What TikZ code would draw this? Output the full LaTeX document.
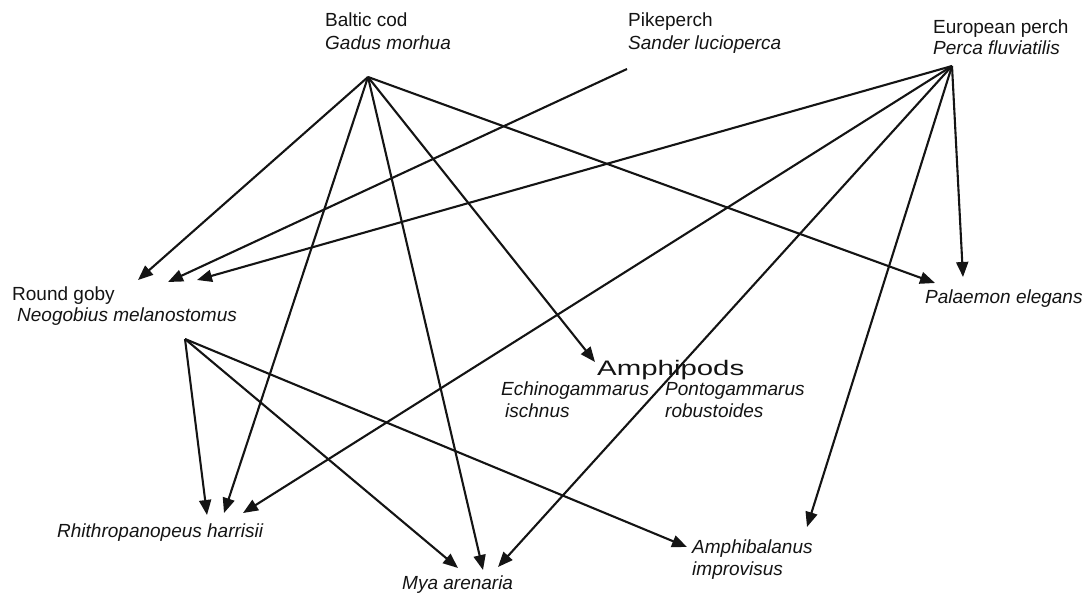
\documentclass[tikz,border=0pt]{standalone}
\usepackage{fontspec}
\setmainfont{Liberation Sans}
\usetikzlibrary{arrows.meta}
\definecolor{ink}{HTML}{141414}
\begin{document}
\begin{tikzpicture}[x=1pt,y=-1pt,
  lbl/.style={anchor=base west,inner sep=0pt,text=ink,font=\fontsize{19}{22}\selectfont},
  ilbl/.style={lbl,font=\fontsize{19}{22}\selectfont\itshape},
  feed/.style={draw=ink,line width=2.1pt,-{Triangle[length=15pt,width=12pt]}}]
\useasboundingbox (0,0) rectangle (1091,594);
% labels
\node[lbl] (codA) at (325,27) {Baltic cod};
\node[ilbl] (codB) at (325,49) {Gadus morhua};
\node[lbl] (pikeA) at (628,27) {Pikeperch};
\node[ilbl] (pikeB) at (628,49) {Sander lucioperca};
\node[lbl] (perchA) at (933,34) {European perch};
\node[ilbl] (perchB) at (933,55) {Perca fluviatilis};
\node[lbl] (gobyA) at (12,300) {Round goby};
\node[ilbl] (gobyB) at (17,321) {Neogobius melanostomus};
\node[ilbl] (palae) at (925,303) {Palaemon elegans};
\node[lbl,font=\fontsize{21}{24}\selectfont] (amph) at (597,375) {\scalebox{1.4}[1]{Amphipods}};
\node[ilbl] (echA) at (501,395) {Echinogammarus};
\node[ilbl] (echB) at (505,417) {ischnus};
\node[ilbl] (ponA) at (665,395) {Pontogammarus};
\node[ilbl] (ponB) at (665,417) {robustoides};
\node[ilbl] (rhith) at (57,537) {Rhithropanopeus harrisii};
\node[ilbl] (mya) at (402,589) {Mya arenaria};
\node[ilbl] (balA) at (692,553) {Amphibalanus};
\node[ilbl] (balB) at (692,575) {improvisus};
% connector ends
\coordinate (cod) at (368,77);
\coordinate (perch) at (952,66);
\coordinate (pike) at (627,69);
\coordinate (goby) at (185,339);
\coordinate (g1) at (138,280);
\coordinate (g2) at (168,282);
\coordinate (g3) at (197,280);
\coordinate (r1) at (207,515);
\coordinate (r2) at (224,513);
\coordinate (r3) at (243,513);
\coordinate (m1) at (458,568);
\coordinate (m2) at (483,570);
\coordinate (m3) at (498,567);
\coordinate (a1) at (595,362);
\coordinate (p1) at (935,283);
\coordinate (p2) at (963,277);
\coordinate (b1) at (687,547);
\coordinate (b2) at (807,527);
% cod
\draw[feed] (cod) -- (g1);
\draw[feed] (cod) -- (r2);
\draw[feed] (cod) -- (m2);
\draw[feed] (cod) -- (a1);
\draw[feed] (cod) -- (p1);
% pikeperch
\draw[feed] (pike) -- (g2);
% perch
\draw[feed] (perch) -- (g3);
\draw[feed] (perch) -- (r3);
\draw[feed] (perch) -- (m3);
\draw[feed] (perch) -- (b2);
\draw[feed] (perch) -- (p2);
% goby
\draw[feed] (goby) -- (r1);
\draw[feed] (goby) -- (m1);
\draw[feed] (goby) -- (b1);
\end{tikzpicture}
\end{document}
